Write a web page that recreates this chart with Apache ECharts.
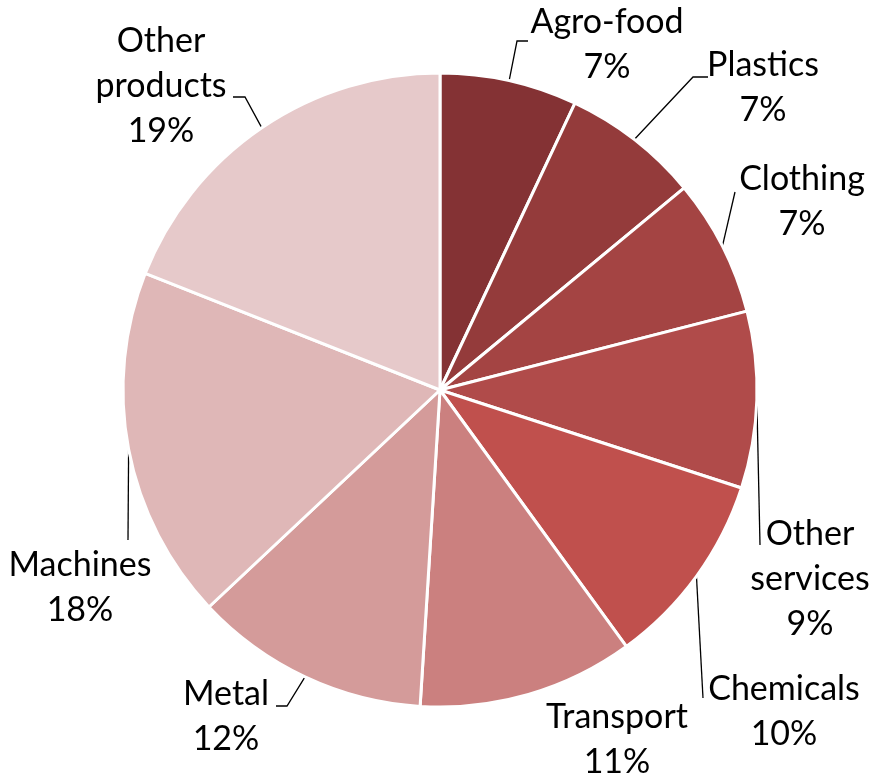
<!DOCTYPE html>
<html>
<head>
<meta charset="utf-8">
<script src="https://cdn.jsdelivr.net/npm/echarts@6/dist/echarts.min.js"></script>
<style>
  html, body { margin: 0; padding: 0; background: #ffffff; }
  #chart { width: 873px; height: 775px; }
</style>
</head>
<body>
<div id="chart"></div>
<script>
// Share of each sector (%)
const categories = ['Agro-food', 'Plastics', 'Clothing', 'Other services', 'Chemicals',
                    'Transport', 'Metal', 'Machines', 'Other products'];
const shares = [7, 7, 7, 9, 10, 11, 12, 18, 19];
const sliceColors = ['#843234', '#943B3B', '#A44443', '#B04B4A', '#C0504D',
                     '#CB807F', '#D49B9A', '#DFB7B7', '#E6C9CA'];

// Label block centres and the end of each leader line (with a short horizontal stub)
const labelSpots = [
  { x: 607, y: 45,  end: [528, 41],  stub: 11 },
  { x: 763, y: 88,  end: [708, 77],  stub: 15 },
  { x: 802, y: 202, end: [735, 192], stub: 0 },
  { x: 810, y: 579, end: [760, 545], stub: 0 },
  { x: 784, y: 712, end: [703, 698], stub: 0 },
  { x: 617, y: 740, end: null },
  { x: 226, y: 717, end: [276, 706], stub: 11 },
  { x: 80,  y: 588, end: [128, 540], stub: 0 },
  { x: 161, y: 86,  end: [233, 97],  stub: 12 }
];

const seriesData = categories.map(function (name, i) {
  const item = { name: name, value: shares[i], itemStyle: { color: sliceColors[i] } };
  if (!labelSpots[i].end) item.labelLine = { show: false };
  return item;
});

const chart = echarts.init(document.getElementById('chart'), null, { renderer: 'canvas' });
chart.setOption({
  animation: false,
  backgroundColor: '#ffffff',
  series: [{
    type: 'pie',
    center: [440, 390],
    radius: 317,
    startAngle: 90,
    clockwise: true,
    avoidLabelOverlap: false,
    itemStyle: { borderColor: '#ffffff', borderWidth: 3 },
    label: {
      show: true,
      position: 'outside',
      color: '#000000',
      fontFamily: 'Lato',
      fontSize: 34,
      lineHeight: 45,
      align: 'center',
      formatter: function (p) {
        return p.name.replace(/^Other /, 'Other\n') + '\n' + Math.round(p.percent) + '%';
      }
    },
    labelLine: {
      show: true,
      length: 10,
      length2: 10,
      lineStyle: { color: '#000000', width: 1.3 }
    },
    labelLayout: function (p) {
      const s = labelSpots[p.dataIndex];
      const out = { x: s.x, y: s.y, align: 'center', verticalAlign: 'middle' };
      if (s.end && p.labelLinePoints) {
        const a = p.labelLinePoints[0];
        const dir = s.end[0] >= a[0] ? 1 : -1;
        const pts = [[a[0], a[1]]];
        if (s.stub) pts.push([s.end[0] - dir * s.stub, s.end[1]]);
        pts.push([s.end[0], s.end[1]]);
        out.labelLinePoints = pts;
      }
      return out;
    },
    data: seriesData
  }]
});
</script>
</body>
</html>
